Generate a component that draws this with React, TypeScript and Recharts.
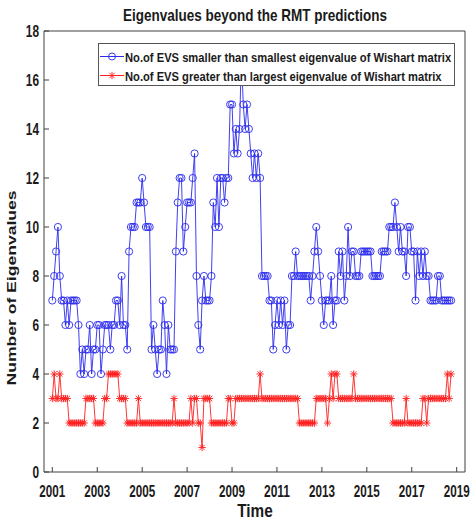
import React from "react"
import { LineChart, Line, XAxis, YAxis } from "recharts"

// monthly counts, Jan 2001 onwards
const START_YEAR = 2001

const smallerThanMin = [
  7, 8, 9, 10, 8, 7, 7, 6, 7, 6,
  7, 7, 7, 7, 6, 4, 5, 4, 5, 5,
  6, 4, 5, 5, 6, 6, 4, 5, 6, 6,
  6, 5, 6, 6, 7, 7, 6, 8, 6, 6,
  5, 9, 10, 10, 10, 11, 11, 11, 12, 11,
  10, 10, 10, 5, 6, 5, 4, 5, 5, 7,
  6, 4, 6, 5, 5, 5, 9, 11, 12, 12,
  9, 10, 11, 11, 11, 12, 13, 8, 6, 5,
  7, 8, 7, 7, 7, 8, 11, 10, 12, 10,
  12, 12, 11, 12, 12, 15, 15, 13, 14, 13,
  14, 17, 15, 14, 15, 14, 13, 12, 13, 12,
  13, 12, 8, 8, 8, 8, 7, 7, 5, 6,
  7, 6, 7, 6, 7, 5, 6, 6, 8, 8,
  9, 8, 8, 8, 8, 8, 8, 8, 7, 8,
  9, 10, 9, 8, 7, 6, 7, 7, 7, 8,
  6, 7, 7, 9, 8, 9, 7, 8, 10, 8,
  9, 9, 8, 8, 8, 9, 9, 9, 9, 9,
  9, 8, 8, 8, 8, 8, 9, 9, 9, 9,
  10, 10, 10, 11, 10, 9, 10, 9, 9, 8,
  10, 10, 9, 9, 7, 9, 8, 9, 8, 9,
  8, 8, 7, 7, 7, 7, 8, 8, 7, 7,
  7, 7, 7, 7,
]

const greaterThanMax = [
  3, 4, 3, 3, 4, 3, 3, 3, 3, 2,
  2, 2, 2, 2, 2, 2, 2, 2, 3, 3,
  3, 3, 3, 2, 2, 2, 2, 2, 3, 3,
  4, 4, 4, 4, 4, 4, 3, 3, 3, 3,
  2, 2, 2, 2, 2, 2, 3, 2, 2, 2,
  2, 2, 2, 2, 2, 2, 2, 2, 2, 2,
  2, 2, 2, 2, 2, 3, 2, 2, 2, 2,
  2, 2, 2, 2, 3, 2, 3, 3, 2, 2,
  1, 3, 3, 3, 3, 2, 2, 2, 2, 2,
  2, 2, 2, 2, 3, 3, 2, 2, 3, 3,
  3, 3, 3, 3, 3, 3, 3, 3, 3, 3,
  3, 4, 3, 3, 3, 3, 3, 3, 3, 3,
  3, 3, 3, 3, 3, 3, 3, 3, 3, 3,
  3, 3, 2, 2, 2, 2, 2, 2, 2, 2,
  2, 3, 3, 3, 3, 3, 3, 2, 3, 4,
  3, 4, 4, 3, 3, 3, 3, 3, 3, 3,
  3, 4, 3, 3, 3, 3, 3, 3, 3, 3,
  3, 3, 3, 3, 3, 3, 3, 3, 3, 3,
  3, 3, 2, 2, 2, 2, 2, 2, 2, 3,
  2, 2, 2, 2, 2, 2, 2, 2, 3, 3,
  2, 3, 3, 3, 3, 3, 3, 3, 3, 3,
  3, 4, 3, 4,
]

const yearTicks = [2001, 2003, 2005, 2007, 2009, 2011, 2013, 2015, 2017, 2019]
const countTicks = [0, 2, 4, 6, 8, 10, 12, 14, 16, 18]

const BLUE = "#2a2aee"
const RED = "#ff2020"
const AXIS = "#404040"
const TEXT = "#1a1a1a"
const FONT = "'Liberation Sans', Arial, Helvetica, sans-serif"

const data = smallerThanMin.map((v, i) => ({
  t: START_YEAR + i / 12,
  smaller: v,
  greater: greaterThanMax[i],
}))

const Asterisk = (props: any) => {
  const { cx, cy, index } = props
  if (cx == null || cy == null) return null
  const s = 3.7
  const d = 2.7
  return (
    <path
      key={`ast-${index}`}
      d={`M${cx - s},${cy}H${cx + s}M${cx},${cy - s}V${cy + s}M${cx - d},${cy - d}L${cx + d},${cy + d}M${cx - d},${cy + d}L${cx + d},${cy - d}`}
      stroke={RED}
      strokeWidth={0.9}
      fill="none"
    />
  )
}

// the reference's lettering is squeezed sideways, so text is scaled in x
const Squeezed = ({ x, y, sx, anchor = "start", size, length, baseline, children }: any) => (
  <text
    transform={`translate(${x},${y}) scale(${sx},1)`}
    x={0}
    y={0}
    textAnchor={anchor}
    dominantBaseline={baseline}
    fontSize={size}
    fontWeight="bold"
    fontFamily={FONT}
    fill={TEXT}
    textLength={length}
    lengthAdjust={length ? "spacingAndGlyphs" : undefined}
  >
    {children}
  </text>
)

const YTick = (props: any) => {
  const { x, y, payload } = props
  const label = String(payload.value)
  return (
    <Squeezed x={x} y={y} sx={0.74} anchor="end" baseline="central" size={16} length={label.length * 8.9}>
      {label}
    </Squeezed>
  )
}

const XTick = (props: any) => {
  const { x, y, payload } = props
  const label = String(payload.value)
  return (
    <Squeezed x={x} y={y} sx={0.73} anchor="middle" baseline="central" size={16} length={35.6}>
      {label}
    </Squeezed>
  )
}

function Overlay() {
  return (
    <svg
      width={472}
      height={522}
      style={{ position: "absolute", left: 0, top: 0, pointerEvents: "none" }}
    >
      <Squeezed x={255} y={21} sx={0.843} anchor="middle" size={16} length={313}>
        Eigenvalues beyond the RMT predictions
      </Squeezed>
      <Squeezed x={255} y={517} sx={0.85} anchor="middle" size={18}>
        Time
      </Squeezed>
      <g transform="translate(16,288) scale(0.8,1) rotate(-90)">
        <text
          x={0}
          y={0}
          textAnchor="middle"
          fontSize={17}
          fontWeight="bold"
          fontFamily={FONT}
          fill={TEXT}
          textLength={195}
          lengthAdjust="spacingAndGlyphs"
        >
          Number of Eigenvalues
        </text>
      </g>

      {/* legend box */}
      <rect x={98.5} y={43.5} width={356} height={42} fill="#ffffff" stroke="#555555" strokeWidth={1} />
      <line x1={100} x2={124} y1={56.5} y2={56.5} stroke={BLUE} strokeWidth={1} />
      <circle cx={112} cy={56.5} r={3.5} stroke={BLUE} strokeWidth={0.9} fill="none" />
      <Squeezed x={125} y={61.5} sx={0.865} size={13} length={377}>
        No.of EVS smaller than smallest eigenvalue of Wishart matrix
      </Squeezed>
      <line x1={100} x2={124} y1={75.5} y2={75.5} stroke={RED} strokeWidth={1} />
      <path d="M108.3,75.5H115.7M112,71.8V79.2M109.3,72.8L114.7,78.2M109.3,78.2L114.7,72.8" stroke={RED} strokeWidth={0.9} fill="none" />
      <Squeezed x={125} y={80.5} sx={0.865} size={13} length={366}>
        No.of EVS greater than largest eigenvalue of Wishart matrix
      </Squeezed>
    </svg>
  )
}

export default function App() {
  const domain: [number, number] = [2000.63, 2019.37]
  return (
    <div style={{ position: "absolute", left: 0, top: 0, width: 472, height: 522, background: "#ffffff" }}>
      <LineChart width={472} height={522} data={data} margin={{ top: 30, right: 0, bottom: 0, left: 0 }}>
        <XAxis
          xAxisId="b"
          dataKey="t"
          type="number"
          domain={domain}
          ticks={yearTicks}
          interval={0}
          tick={<XTick />}
          tickSize={-5}
          tickMargin={24}
          height={50}
          stroke={AXIS}
          allowDataOverflow
        />
        <XAxis
          xAxisId="top"
          orientation="top"
          dataKey="t"
          type="number"
          domain={domain}
          ticks={yearTicks}
          interval={0}
          tick={false}
          tickSize={-5}
          height={1}
          stroke={AXIS}
          allowDataOverflow
        />
        <YAxis
          yAxisId="l"
          type="number"
          domain={[0, 18]}
          ticks={countTicks}
          interval={0}
          tick={<YTick />}
          tickSize={-5}
          tickMargin={10}
          width={44}
          stroke={AXIS}
          allowDataOverflow
        />
        <YAxis
          yAxisId="r"
          orientation="right"
          type="number"
          domain={[0, 18]}
          ticks={countTicks}
          interval={0}
          tick={false}
          tickSize={-5}
          width={7}
          stroke={AXIS}
          allowDataOverflow
        />
        <Line
          xAxisId="b"
          yAxisId="l"
          type="linear"
          dataKey="smaller"
          stroke={BLUE}
          strokeWidth={0.9}
          dot={{ r: 3.6, stroke: BLUE, strokeWidth: 0.9, fill: "none" }}
          activeDot={false}
          isAnimationActive={false}
        />
        <Line
          xAxisId="b"
          yAxisId="l"
          type="linear"
          dataKey="greater"
          stroke={RED}
          strokeWidth={0.9}
          dot={<Asterisk />}
          activeDot={false}
          isAnimationActive={false}
        />
      </LineChart>
      <Overlay />
    </div>
  )
}
